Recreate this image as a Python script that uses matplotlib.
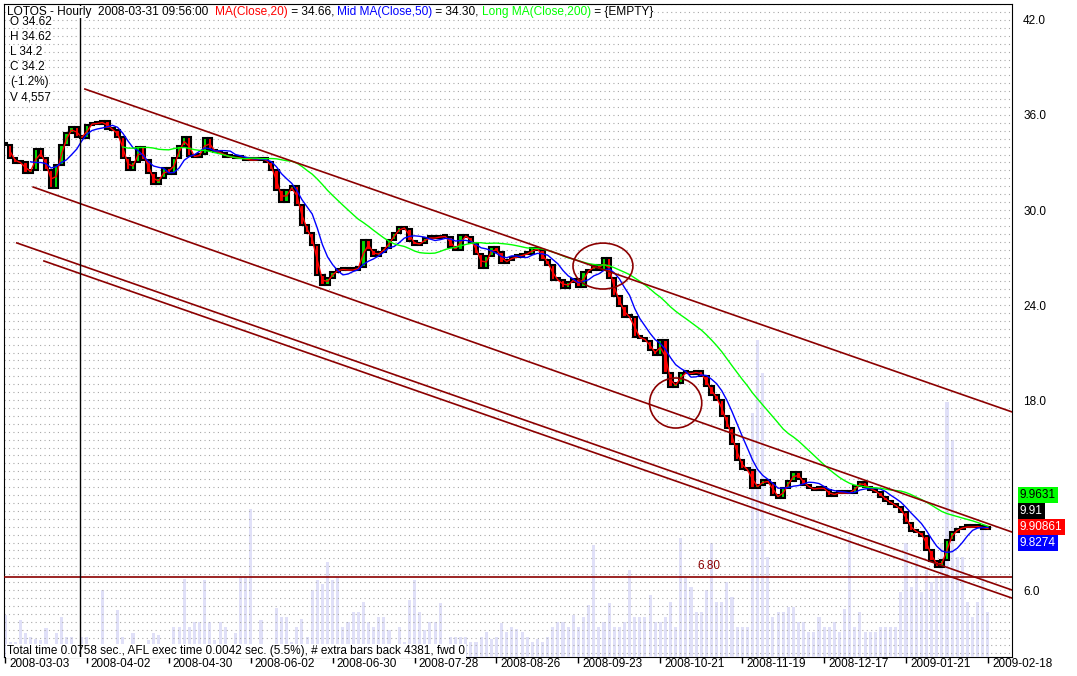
import numpy as np
import pandas as pd
import matplotlib
matplotlib.use('Agg')
import matplotlib.pyplot as plt
from matplotlib.patches import Ellipse

plt.rcParams['font.family'] = ['Liberation Sans', 'DejaVu Sans']

# LOTOS hourly, grouped into candles (16 candles between date ticks)
close = [
    34.11, 33.28, 32.97, 33.03, 32.34, 32.53, 33.85, 33.28, 32.53, 31.39,
    32.84, 34.11, 34.86, 35.24, 34.61, 34.55, 35.37, 35.49, 35.43, 35.62,
    35.12, 35.05, 34.61, 33.28, 32.53, 33.03, 33.98, 33.16, 32.34, 31.64,
    32.02, 32.65, 32.27, 33.28, 34.04, 34.61, 33.41, 33.35, 33.54, 34.55,
    33.79, 33.66, 33.60, 33.35, 33.35, 33.28, 33.28, 33.16, 33.16, 33.16,
    33.28, 33.03, 32.53, 31.26, 30.51, 31.26, 31.52, 30.32, 29.05, 28.55,
    27.79, 25.89, 25.26, 25.71, 26.08, 26.27, 26.21, 26.21, 26.21, 26.40,
    28.11, 27.47, 27.09, 27.35, 27.60, 28.11, 28.55, 28.93, 28.80, 28.04,
    27.79, 27.92, 28.23, 28.23, 28.23, 28.36, 28.29, 27.66, 27.47, 28.42,
    28.29, 27.92, 27.22, 26.34, 27.09, 27.66, 27.35, 26.65, 26.84, 27.03,
    27.03, 27.22, 27.22, 27.60, 27.47, 26.84, 26.53, 25.58, 25.58, 25.07,
    25.45, 25.64, 25.14, 26.08, 26.21, 26.53, 26.21, 26.97, 25.71, 24.57,
    23.94, 23.24, 23.24, 21.98, 21.92, 21.73, 21.16, 20.84, 21.79, 19.71,
    18.82, 19.07, 19.71, 19.71, 19.64, 19.83, 19.52, 18.88, 18.32, 18.00,
    16.99, 16.23, 15.22, 14.21, 13.64, 13.58, 12.44, 12.63, 12.95, 12.76,
    12.00, 11.81, 12.44, 12.88, 13.45, 13.01, 12.63, 12.44, 12.32, 12.51,
    12.32, 11.94, 12.13, 12.13, 12.13, 12.13, 12.57, 12.82, 12.51, 12.32,
    12.19, 11.87, 11.62, 11.43, 11.24, 10.93, 10.23, 9.73, 9.66, 9.41,
    8.53, 7.83, 7.45, 7.89, 9.16, 9.66, 9.85, 9.98, 9.98, 9.98,
    10.04, 9.85, 9.91]

volume = [
    42, 15, 15, 37, 24, 20, 18, 17, 29, 12,
    24, 40, 20, 20, 8, 20, 20, 8, 6, 67,
    5, 6, 47, 20, 6, 24, 8, 6, 17, 24,
    22, 5, 6, 30, 30, 78, 30, 35, 35, 77,
    35, 17, 35, 30, 12, 24, 80, 80, 148, 10,
    37, 8, 10, 49, 40, 40, 15, 30, 38, 20,
    67, 77, 73, 95, 77, 80, 30, 35, 45, 45,
    55, 35, 30, 40, 40, 27, 12, 30, 15, 57,
    77, 45, 27, 35, 35, 54, 10, 20, 20, 20,
    20, 15, 15, 20, 25, 18, 20, 34, 25, 30,
    28, 25, 20, 15, 18, 15, 20, 30, 35, 35,
    30, 42, 30, 40, 52, 112, 30, 35, 54, 30,
    30, 35, 87, 40, 40, 40, 62, 35, 35, 40,
    55, 30, 119, 79, 70, 45, 45, 67, 114, 55,
    55, 75, 60, 30, 30, 30, 244, 317, 284, 100,
    40, 45, 45, 50, 50, 35, 35, 25, 25, 40,
    30, 30, 35, 25, 48, 120, 30, 45, 25, 25,
    25, 30, 30, 30, 30, 65, 114, 70, 97, 65,
    87, 75, 80, 114, 255, 217, 100, 100, 55, 40,
    55, 130, 45]

date_labels = ['2008-03-03', '2008-04-02', '2008-04-30', '2008-06-02', '2008-06-30',
               '2008-07-28', '2008-08-26', '2008-09-23', '2008-10-21', '2008-11-19',
               '2008-12-17', '2009-01-21', '2009-02-18']
bars_per_label = 16

# price axis labels (12.0 sits under the last-value boxes)
price_ticks = [6, 18, 24, 30, 36, 42]

# moving average windows in candles (20 / 50 / 200 hourly bars)
ma_windows = [2, 6, 24]
ma_colors = ['#ff0000', '#0000ff', '#00ff00']

# hand-drawn studies: (x0, price0, x1, price1)
trend_lines = [(15.6, 37.64, 197.3, 17.18),
               (5.5, 31.45, 196.7, 9.66),
               (2.3, 27.92, 196.7, 6.00),
               (7.6, 26.78, 196.7, 5.49)]
circles = [(116.8, 26.46, 11.7, 2.9), (131.0, 17.81, 10.2, 3.16)]
support_level = 6.80
cursor_bar = 14.65

header = [('LOTOS - Hourly  2008-03-31 09:56:00  ', 'black'), ('MA(Close,20)', '#ff0000'),
          (' = 34.66, ', 'black'), ('Mid MA(Close,50)', '#0000ff'), (' = 34.30, ', 'black'),
          ('Long MA(Close,200)', '#00ff00'), (' = {EMPTY}', 'black')]
info = ['O 34.62', 'H 34.62', 'L 34.2', 'C 34.2', '(-1.2%)', 'V 4,557']
last_values = [('9.9631', '#00ff00', 'black'), ('9.91', 'black', 'white'),
               ('9.90861', '#ff0000', 'white'), ('9.8274', '#0000ff', 'white')]

DARKRED = '#8b0000'
W, H = 1077, 676
fig = plt.figure(figsize=(W / 100, H / 100), dpi=100)
rect = [4 / W, 1 - 657 / H, 1008 / W, 653 / H]
xlim = (-0.2, 196.7)

# volume pane behind the price
axv = fig.add_axes(rect, zorder=0)
idx = np.arange(len(close))
axv.bar(idx, volume, width=0.6, color='#e0e0f8', zorder=3)
axv.set_xlim(*xlim)
axv.set_ylim(0, 653)
axv.set_xticks([])
axv.set_yticks([])
for sp in ['left', 'right', 'top']:
    axv.spines[sp].set_visible(False)
axv.spines['bottom'].set_color('black')

ax = fig.add_axes(rect, zorder=1)
ax.patch.set_alpha(0)
ax.set_xlim(*xlim)
ax.set_ylim(1.77, 43.01)

# dotted grid
ax.hlines(np.arange(2, 43.01, 0.5), xlim[0], xlim[1], colors='#a8a8a8',
          linestyles=(0, (1, 3)), linewidth=0.8, zorder=1)

# candles: open = previous close
s = pd.Series(close)
opens = s.shift(1).fillna(s.iloc[0])
lo = np.minimum(opens, s)
body = np.maximum(np.abs(s - opens), 0.12)
cols = ['#00dd00' if c > o else ('#ff0000' if c < o else 'black') for o, c in zip(opens, s)]
ax.bar(idx, body, bottom=lo, width=0.85, color=cols, edgecolor='black', linewidth=1.5, zorder=4)

for w, c in zip(ma_windows, ma_colors):
    ax.plot(idx, s.rolling(w).mean(), color=c, linewidth=1, zorder=5)

for x0, y0, x1, y1 in trend_lines:
    ax.plot([x0, x1], [y0, y1], color=DARKRED, linewidth=1.2, zorder=6)
for cx, cy, ew, eh in circles:
    ax.add_patch(Ellipse((cx, cy), ew, eh, fill=False, edgecolor=DARKRED, linewidth=1.2, zorder=6))

ax.axhline(support_level, color=DARKRED, linewidth=1.2, zorder=6)
ax.annotate(f'{support_level:.2f}', xy=(137.5, support_level), xytext=(0, 5),
            textcoords='offset pixels', ha='center', va='bottom', color=DARKRED, fontsize=8.5)

ax.axvline(cursor_bar, color='black', linewidth=1, zorder=7)

# axes
for sp in ['left', 'right', 'top']:
    ax.spines[sp].set_color('black')
ax.spines['bottom'].set_visible(False)
ax.yaxis.tick_right()
ax.set_yticks(price_ticks)
ax.set_yticklabels([f'{v:.1f}' for v in price_ticks], fontsize=8.5)
ax.tick_params(axis='y', length=0, pad=8)
for lab in ax.get_yticklabels():
    lab.set_horizontalalignment('left')

tick_pos = [i * bars_per_label for i in range(len(date_labels))]
ax.set_xticks(tick_pos)
ax.set_xticklabels([])
ax.tick_params(axis='x', direction='out', length=4, width=1, color='black')
for p, lab in zip(tick_pos, date_labels):
    ax.annotate(lab, xy=(p, 0), xycoords=('data', 'axes fraction'), xytext=(4, -1),
                textcoords='offset pixels', ha='left', va='top', fontsize=8.5,
                annotation_clip=False)

ax.annotate('Total time 0.0758 sec., AFL exec time 0.0042 sec. (5.5%), # extra bars back 4381, fwd 0',
            xy=(7, H - 651), xycoords='figure pixels', va='center', ha='left', fontsize=8.5,
            bbox=dict(fc='white', ec='none', pad=0.5), zorder=6)

# header line with coloured pieces
prev = None
for txt, col in header:
    if prev is None:
        prev = ax.annotate(txt, xy=(7, H - 18), xycoords='figure pixels', va='bottom', ha='left',
                           color=col, fontsize=8.6, bbox=dict(fc='white', ec='none', pad=0.3),
                           annotation_clip=False, zorder=8)
    else:
        prev = ax.annotate(txt, xy=(1, 0), xycoords=prev, va='bottom', ha='left',
                           color=col, fontsize=8.6, bbox=dict(fc='white', ec='none', pad=0.3),
                           annotation_clip=False, zorder=8)

for k, t in enumerate(info):
    ax.annotate(t, xy=(10, H - (22 + 15 * k)), xycoords='figure pixels', va='center', ha='left',
                fontsize=8.5, bbox=dict(fc='white', ec='none', pad=0.3), zorder=8)

for k, (t, bg, fg) in enumerate(last_values):
    fig.text(1020 / W, 1 - (495 + 16 * k) / H, t, color=fg, fontsize=8.5, va='center', ha='left',
             bbox=dict(fc=bg, ec='none', pad=1.8), zorder=10)

fig.savefig('out.png', dpi=100)
